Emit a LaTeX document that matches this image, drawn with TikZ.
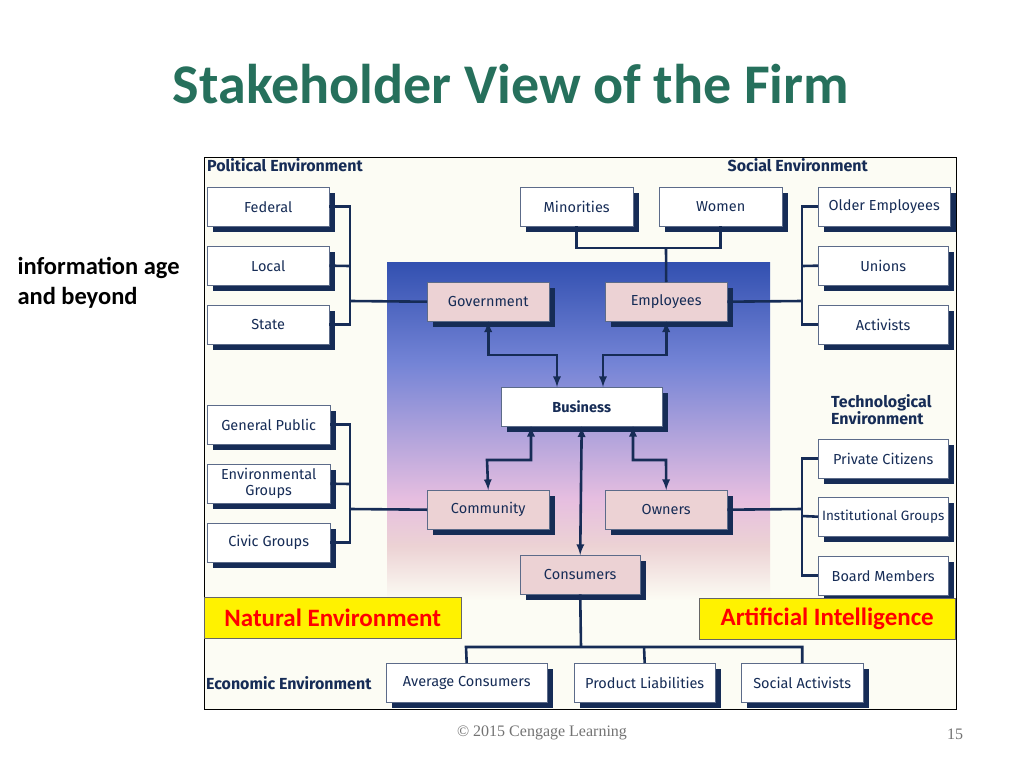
\documentclass[tikz,border=0pt]{standalone}
\usepackage{fontspec}
\setmainfont{Carlito}
\newfontfamily\boxfont{Fira Sans}
\usetikzlibrary{positioning,shapes,arrows,shadows}
\definecolor{navy}{RGB}{22,44,86}
\definecolor{cream}{RGB}{252,252,244}
\definecolor{rose}{RGB}{236,210,212}
\definecolor{titlegreen}{RGB}{38,112,92}
\definecolor{topblue}{RGB}{50,80,176}
\definecolor{midblue}{RGB}{116,132,214}
\definecolor{pinkish}{RGB}{230,190,224}
\pgfdeclareverticalshading{stageshade}{100bp}{color(0bp)=(cream); color(25bp)=(cream); color(33bp)=(rose); color(40bp)=(pinkish); color(60bp)=(midblue); color(75bp)=(topblue); color(100bp)=(topblue)}

\begin{document}
\begin{tikzpicture}[x=1pt,y=-1pt,
    party/.style={rectangle, draw=navy!70, fill=white, anchor=north west, inner sep=0pt, font=\boxfont\fontsize{14.5}{15}\selectfont, text=navy, align=center, drop shadow={shadow xshift=6pt, shadow yshift=-6pt, fill=navy, opacity=1}},
    hub/.style={party, fill=rose},
    heading/.style={font=\boxfont\bfseries\fontsize{16}{17}\selectfont, text=navy, inner sep=0pt},
    banner/.style={draw=black!60, fill=yellow, anchor=north west, minimum height=41pt, font=\bfseries\fontsize{25}{26}\selectfont, text=red},
    link/.style={draw=navy, line width=2.6pt},
    flow/.style={link, -latex}]
      \useasboundingbox (0,0) rectangle (1024,768);
    %  frame and stage
      \fill[white] (0,0) rectangle (1024,768);
      \draw[black, fill=cream] (204,157) rectangle (956,709);
      \shade[shading=stageshade] (387,262) rectangle (770,600);

      \node [font=\bfseries\fontsize{56}{58}\selectfont, text=titlegreen] at (511,84) {Stakeholder View of the Firm};
      \node [font=\bfseries\fontsize{24.5}{30}\selectfont, align=left, anchor=north west] at (14,254) {information age\\and beyond};

      \node [heading, anchor=west] at (207,165) {Political Environment};
      \node [heading, anchor=east] at (868,165) {Social Environment};
      \node [heading, anchor=north west, align=left, font=\boxfont\bfseries\fontsize{16}{17}\selectfont] at (831,394) {Technological\\Environment};
      \node [heading, anchor=west] at (206,683) {Economic Environment};

      % left groups
      \node [party, minimum width=122pt, minimum height=39pt] (federal) at (207,187) {Federal};
      \node [party, minimum width=122pt, minimum height=39pt] (local) at (207,246) {Local};
      \node [party, minimum width=122pt, minimum height=39pt] (state) at (207,305) {State};
      \node [party, minimum width=123pt, minimum height=39pt] (public) at (207,405) {General Public};
      \node [party, minimum width=123pt, minimum height=39pt, font=\boxfont\fontsize{14.5}{16}\selectfont] (envgroups) at (207,464) {Environmental\\Groups};
      \node [party, minimum width=123pt, minimum height=39pt] (civic) at (207,523) {Civic Groups};

      % top and right groups
      \node [party, minimum width=113pt, minimum height=39pt] (minorities) at (520,187) {Minorities};
      \node [party, minimum width=123pt, minimum height=39pt] (women) at (659,187) {Women};
      \node [party, minimum width=132pt, minimum height=39pt] (older) at (818,187) {Older Employees};
      \node [party, minimum width=130pt, minimum height=39pt] (unions) at (818,246) {Unions};
      \node [party, minimum width=130pt, minimum height=39pt] (activists) at (818,305) {Activists};
      \node [party, minimum width=130pt, minimum height=39pt] (citizens) at (818,439) {Private Citizens};
      \node [party, minimum width=130pt, minimum height=39pt, font=\boxfont\fontsize{13.5}{15}\selectfont] (institutional) at (818,497) {Institutional Groups};
      \node [party, minimum width=130pt, minimum height=39pt] (board) at (818,556) {Board Members};

      % bottom groups
      \node [party, minimum width=161pt, minimum height=39pt] (average) at (386,663) {Average Consumers};
      \node [party, minimum width=141pt, minimum height=39pt] (liabilities) at (574,663) {Product Liabilities};
      \node [party, minimum width=122pt, minimum height=39pt] (socialact) at (741,663) {Social Activists};

      % stakeholders
      \node [hub, minimum width=122pt, minimum height=39pt] (government) at (427,282) {Government};
      \node [hub, minimum width=122pt, minimum height=39pt] (employees) at (605,282) {Employees};
      \node [party, minimum width=161pt, minimum height=39pt, font=\boxfont\bfseries\fontsize{14.5}{15}\selectfont] (business) at (501,387) {Business};
      \node [hub, minimum width=122pt, minimum height=39pt] (community) at (427,490) {Community};
      \node [hub, minimum width=122pt, minimum height=39pt] (owners) at (605,490) {Owners};
      \node [hub, minimum width=120pt, minimum height=39pt] (consumers) at (520,555) {Consumers};

      % brackets
      \draw[link] (federal.east) -| (350,301) |- (state.east);
      \draw[link] (local.east) -- (350,266);
      \draw[link] (350,301) -- (government.west);
      \draw[link] (public.east) -| (350,509) |- (civic.east);
      \draw[link] (envgroups.east) -- (350,484);
      \draw[link] (350,509) -- (community.west);
      \draw[link] (minorities.south) |- (666,248) -| (women.south);
      \draw[link] (666,248) -- (employees.north);
      \draw[link] (older.west) -| (802,301) |- (activists.west);
      \draw[link] (unions.west) -- (802,266);
      \draw[link] (802,301) -- (employees.east);
      \draw[link] (citizens.west) -| (802,509) |- (board.west);
      \draw[link] (institutional.west) -- (802,516);
      \draw[link] (802,509) -- (owners.east);
      \draw[link] (consumers.south) -- (581,647);
      \draw[link] (average.north) -- (466,647) -| (socialact.north);
      \draw[link] (liabilities.north) -- (644,647);

      % arrows to and from business
      \draw[flow, latex-latex] (government.south) |- (557,355) -- (557,387);
      \draw[flow, latex-latex] (employees.south) |- (603,355) -- (603,387);
      \draw[flow, latex-latex] (531,426) |- (487,460) -- (community.north);
      \draw[flow, latex-latex] (633,426) |- (666,460) -- (owners.north);
      \draw[flow, latex-latex] (business.south) -- (consumers.north);

      % overlays
      \node [banner, minimum width=257pt] (natural) at (204,597) {Natural Environment};
      \node [banner, minimum width=256pt] (ai) at (699,598) {Artificial Intelligence};

      \node [font=\fontspec{Liberation Serif}\fontsize{16}{18}\selectfont, text=black!55] at (542,733) {\textcopyright{} 2015 Cengage Learning};
      \node [font=\fontspec{Liberation Serif}\fontsize{16}{18}\selectfont, text=black!55] at (955,734) {15};
    \end{tikzpicture}
\end{document}
